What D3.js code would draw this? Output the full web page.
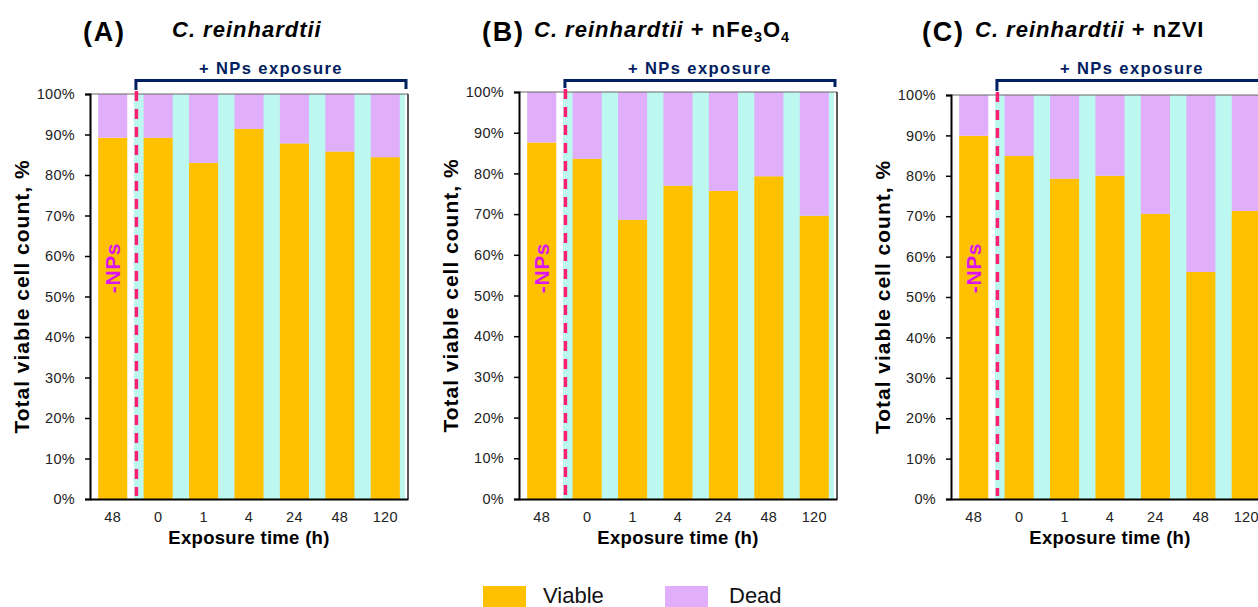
<!DOCTYPE html>
<meta charset="utf-8">
<style>
body { margin: 0; background: #fff; }
svg { display: block; font-family: "Liberation Sans", Arial, sans-serif; }
.tick text { font-size: 14.5px; fill: #222; letter-spacing: 0.3px; }
</style>
<body>
<svg width="1258" height="607"></svg>
<script src="https://cdn.jsdelivr.net/npm/d3@7"></script>
<script>
// exposure times (first one is the control without NPs)
var times = ["48", "0", "1", "4", "24", "48", "120"];
var seriesNames = ["Viable", "Dead"];

// % of cells
var viableA = [89.2, 89.2, 83.0, 91.4, 87.8, 85.8, 84.4];
var deadA   = [10.8, 10.8, 17.0, 8.6, 12.2, 14.2, 15.6];
var viableB = [87.6, 83.6, 68.6, 77.0, 75.7, 79.3, 69.6];
var deadB   = [12.4, 16.4, 31.4, 23.0, 24.3, 20.7, 30.4];
var viableC = [89.9, 84.9, 79.3, 80.0, 70.6, 56.2, 71.3];
var deadC   = [10.1, 15.1, 20.7, 20.0, 29.4, 43.8, 28.7];

var yTicks = [0, 10, 20, 30, 40, 50, 60, 70, 80, 90, 100];

var colors = { Viable: "#ffc000", Dead: "#e0aefa" };
var cyan = "#bdf8f0", navy = "#002060", pink = "#ff1f6f", magenta = "#dc14ee";

var svg = d3.select("svg");

var panels = [
  { tag: "(A)", viable: viableA, dead: deadA, left: 90, top: 94, tagX: -7, subX: 82, extra: null },
  { tag: "(B)", viable: viableB, dead: deadB, left: 519, top: 92, tagX: -37, subX: 15, extra: "fe" },
  { tag: "(C)", viable: viableC, dead: deadC, left: 951, top: 95, tagX: -29, subX: 24, extra: "zvi" }
];

var plotW = 318, bottom = 499;

panels.forEach(function(p) {
  var g = svg.append("g").attr("transform", "translate(" + p.left + ",0)");

  var x = d3.scaleBand().domain(d3.range(times.length)).range([0, plotW])
    .paddingInner(0.36).paddingOuter(0.18);
  var y = d3.scaleLinear().domain([0, 100]).range([bottom, p.top]);

  var rows = times.map(function(t, i) { return { i: i, Viable: p.viable[i], Dead: p.dead[i] }; });
  var stack = d3.stack().keys(seriesNames)(rows);

  var step = x.step();
  // cyan band behind the exposed samples
  g.append("rect")
    .attr("x", step - 1.5).attr("y", p.top)
    .attr("width", plotW - step - 1.5).attr("height", bottom - p.top)
    .attr("fill", cyan);

  g.selectAll(".layer").data(stack).enter().append("g")
    .attr("fill", function(d) { return colors[d.key]; })
    .selectAll("rect").data(function(d) { return d; }).enter().append("rect")
    .attr("x", function(d) { return x(d.data.i); })
    .attr("width", x.bandwidth())
    .attr("y", function(d) { return y(d[1]); })
    .attr("height", function(d) { return y(d[0]) - y(d[1]); });

  // frame
  g.append("line").attr("x1", 0).attr("x2", plotW).attr("y1", p.top).attr("y2", p.top)
    .attr("stroke", "#666").attr("stroke-width", 1);
  g.append("line").attr("x1", plotW).attr("x2", plotW).attr("y1", p.top).attr("y2", bottom)
    .attr("stroke", "#222").attr("stroke-width", 1.5);

  // dashed separator
  g.append("line").attr("x1", step + 1).attr("x2", step + 1)
    .attr("y1", p.top - 3).attr("y2", bottom - 3)
    .attr("stroke", pink).attr("stroke-width", 3.5).attr("stroke-dasharray", "10,8");

  // y axis
  var ya = g.append("g").call(d3.axisLeft(y).tickValues(yTicks)
    .tickFormat(function(d) { return d + "%"; }).tickSize(5).tickPadding(10));
  ya.select(".domain").attr("stroke", "#000").attr("stroke-width", 2);
  ya.selectAll(".tick line").attr("stroke", "#000").attr("stroke-width", 1.5);

  // x axis
  var xa = g.append("g").attr("transform", "translate(0," + bottom + ")")
    .call(d3.axisBottom(x).tickSize(0).tickPadding(13)
      .tickFormat(function(i) { return times[i]; }));
  xa.select(".domain").attr("stroke", "#000").attr("stroke-width", 2);

  g.append("text")
    .attr("x", plotW / 2).attr("y", 544)
    .attr("text-anchor", "middle")
    .style("font-size", "18.5px").style("font-weight", "bold").style("letter-spacing", "0.3px")
    .text("Exposure time (h)");

  g.append("text")
    .attr("transform", "translate(-68," + ((p.top + bottom) / 2) + ") rotate(-90)")
    .attr("text-anchor", "middle").attr("dy", "0.35em")
    .style("font-size", "21px").style("font-weight", "bold").style("letter-spacing", "1px")
    .text("Total viable cell count, %");

  // -NPs label inside control bar
  g.append("text")
    .attr("transform", "translate(" + (x(0) + x.bandwidth() / 2) + ",268) rotate(-90)")
    .attr("text-anchor", "middle").attr("dy", "0.36em")
    .style("font-size", "21px").style("font-weight", "bold").style("letter-spacing", "0.6px")
    .attr("fill", magenta)
    .text("-NPs");

  // exposure bracket
  var bx0 = step + 0.5, bx1 = plotW - 2, by = 80.5;
  g.append("path")
    .attr("d", "M" + bx0 + "," + (p.top - 4) + "V" + by + "H" + bx1 + "V" + (p.top - 5))
    .attr("fill", "none").attr("stroke", navy).attr("stroke-width", 3);
  g.append("text")
    .attr("x", (bx0 + bx1) / 2).attr("y", 74)
    .attr("text-anchor", "middle").attr("fill", navy)
    .style("font-size", "16.5px").style("font-weight", "bold").style("letter-spacing", "1.4px")
    .text("+ NPs exposure");

  // panel title
  g.append("text").attr("x", p.tagX).attr("y", 41)
    .style("font-size", "27px").style("font-weight", "bold").style("letter-spacing", "1.8px")
    .text(p.tag);
  var t = g.append("text").attr("x", p.subX).attr("y", 37)
    .style("font-size", "22px").style("font-weight", "bold").style("letter-spacing", "1px");
  t.append("tspan").style("font-style", "italic").text("C. reinhardtii");
  if (p.extra === "fe") {
    t.append("tspan").text(" + nFe");
    t.append("tspan").attr("dy", 5).style("font-size", "14.5px").text("3");
    t.append("tspan").attr("dy", -5).text("O");
    t.append("tspan").attr("dy", 5).style("font-size", "14.5px").text("4");
  } else if (p.extra === "zvi") {
    t.append("tspan").text(" + nZVI");
  }
});

// legend
var legend = svg.append("g");
var legX = d3.scaleOrdinal().domain(seriesNames).range([483, 665]);
var legTextX = d3.scaleOrdinal().domain(seriesNames).range([543, 729]);
seriesNames.forEach(function(name) {
  legend.append("rect").attr("x", legX(name)).attr("y", 586)
    .attr("width", 43).attr("height", 21).attr("fill", colors[name]);
  legend.append("text").attr("x", legTextX(name)).attr("y", 603)
    .style("font-size", "22px").attr("fill", "#111")
    .text(name);
});
</script>
</body>
